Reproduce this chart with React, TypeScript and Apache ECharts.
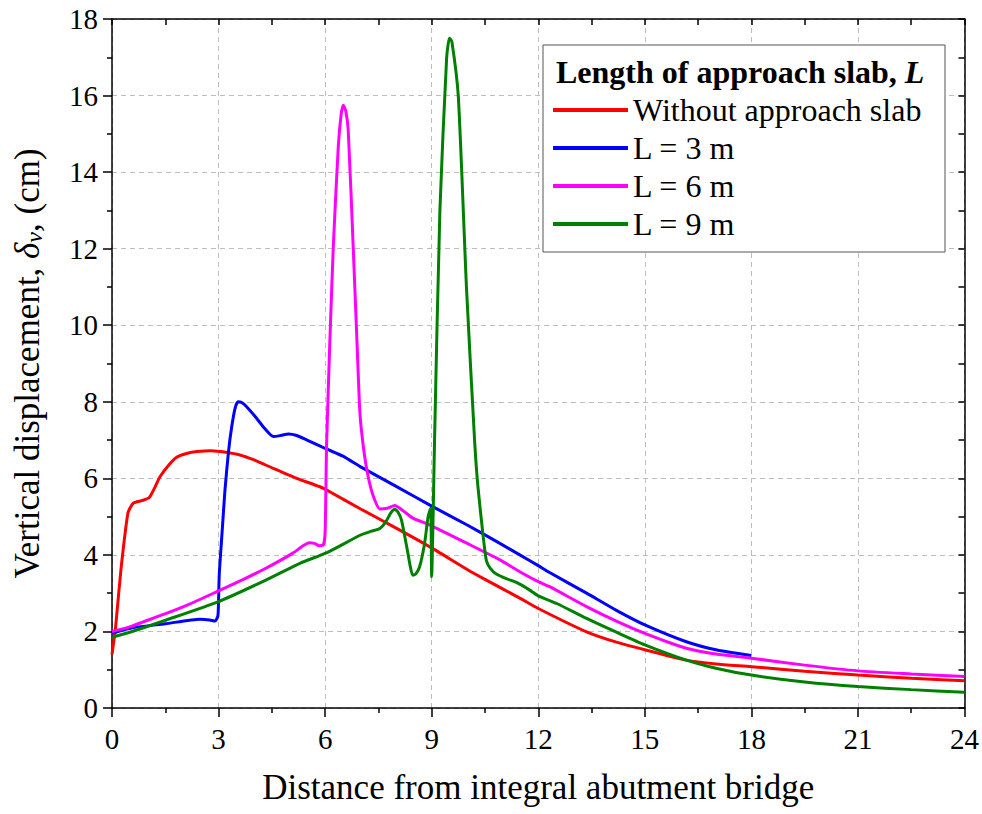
import React, { useEffect, useRef } from "react";
import * as echarts from "echarts";

const seriesNames = ["Without approach slab", "L = 3 m", "L = 6 m", "L = 9 m"];
const seriesColors = ["#FF0000", "#0000FF", "#FF00FF", "#008000"];

const xTicks = [0, 3, 6, 9, 12, 15, 18, 21, 24];
const yTicks = [0, 2, 4, 6, 8, 10, 12, 14, 16, 18];

const xRed = [0, 0.1, 0.25, 0.45, 0.6, 0.85, 1.05, 1.2, 1.35, 1.6, 1.82, 2.1, 2.4, 2.8, 3.2, 3.6, 4.0, 4.54, 5.2, 5.85, 6.13, 7.0, 8.0, 8.95, 10.0, 10.54, 11.48, 12.0, 13.36, 14.2, 15.0, 16.17, 17.0, 18.0, 19.5, 21.0, 22.5, 24.0];
const yRed = [1.4, 2.1, 3.6, 5.1, 5.35, 5.42, 5.5, 5.75, 6.04, 6.35, 6.55, 6.65, 6.7, 6.72, 6.68, 6.61, 6.48, 6.26, 6.0, 5.78, 5.65, 5.2, 4.7, 4.21, 3.62, 3.34, 2.87, 2.6, 1.99, 1.72, 1.52, 1.25, 1.15, 1.08, 0.96, 0.86, 0.78, 0.71];

const xBlue = [0, 0.6, 1.5, 2.48, 2.75, 2.9, 2.98, 3.0, 3.02, 3.1, 3.18, 3.28, 3.37, 3.47, 3.55, 3.65, 3.79, 4.07, 4.3, 4.54, 4.75, 4.97, 5.2, 5.49, 6.05, 6.5, 7.0, 8.0, 8.95, 10.0, 10.92, 11.48, 12.0, 12.32, 13.36, 14.2, 15.0, 16.17, 17.0, 18.0];
const yBlue = [1.95, 2.1, 2.2, 2.32, 2.3, 2.27, 2.4, 2.8, 3.5, 4.6, 5.69, 6.7, 7.35, 7.85, 8.0, 7.98, 7.87, 7.57, 7.3, 7.09, 7.12, 7.16, 7.12, 7.0, 6.76, 6.58, 6.3, 5.79, 5.3, 4.78, 4.3, 4.0, 3.72, 3.54, 3.0, 2.55, 2.17, 1.73, 1.52, 1.37];

const xMagenta = [0, 0.5, 0.88, 1.53, 2.2, 3.0, 3.7, 4.33, 5.08, 5.4, 5.55, 5.7, 5.83, 5.95, 6.0, 6.04, 6.13, 6.23, 6.37, 6.45, 6.51, 6.58, 6.65, 6.79, 6.9, 6.98, 7.08, 7.2, 7.35, 7.54, 7.75, 7.96, 8.2, 8.47, 8.95, 10.0, 10.92, 11.48, 12.0, 12.32, 13.36, 14.2, 15.0, 16.17, 17.0, 18.0, 19.5, 21.0, 22.5, 24.0];
const yMagenta = [2.0, 2.12, 2.25, 2.47, 2.72, 3.06, 3.36, 3.65, 4.04, 4.25, 4.32, 4.3, 4.24, 4.26, 4.6, 6.83, 9.5, 12.05, 14.66, 15.5, 15.75, 15.6, 15.1, 12.05, 9.5, 7.7, 6.8, 6.1, 5.55, 5.2, 5.22, 5.29, 5.15, 4.96, 4.78, 4.3, 3.87, 3.56, 3.3, 3.17, 2.65, 2.27, 1.95, 1.56, 1.41, 1.3, 1.12, 0.97, 0.89, 0.82];

const xGreen = [0, 0.5, 1.53, 3.0, 4.33, 5.29, 6.05, 7.0, 7.3, 7.54, 7.7, 7.85, 7.96, 8.05, 8.15, 8.3, 8.47, 8.55, 8.66, 8.8, 8.9, 8.97, 9.0, 9.04, 9.08, 9.23, 9.42, 9.5, 9.57, 9.75, 9.98, 10.21, 10.3, 10.45, 10.54, 10.65, 10.82, 11.1, 11.39, 11.76, 12.0, 12.52, 13.36, 14.2, 15.0, 16.17, 17.0, 18.0, 19.5, 21.0, 22.5, 24.0];
const yGreen = [1.85, 1.98, 2.3, 2.78, 3.34, 3.78, 4.06, 4.52, 4.62, 4.69, 4.85, 5.1, 5.19, 5.12, 4.91, 4.2, 3.47, 3.5, 3.69, 4.3, 5.0, 5.22, 3.43, 5.0, 6.96, 12.97, 16.97, 17.5, 17.4, 15.97, 10.97, 6.96, 5.8, 4.48, 3.85, 3.65, 3.5, 3.38, 3.28, 3.08, 2.93, 2.73, 2.34, 1.98, 1.65, 1.25, 1.04, 0.86, 0.68, 0.56, 0.48, 0.41];

const FONT = "Liberation Serif";

function zip(xs: number[], ys: number[]) {
  return xs.map((x, i) => [x, ys[i]]);
}

export default function App() {
  const ref = useRef<HTMLDivElement>(null);
  useEffect(() => {
    document.body.style.margin = "0";
    if (!ref.current) return;
    const chart = echarts.init(ref.current, undefined, { renderer: "svg" });
    const data = [zip(xRed, yRed), zip(xBlue, yBlue), zip(xMagenta, yMagenta), zip(xGreen, yGreen)];
    const axisLine = { show: true, onZero: false, lineStyle: { color: "#000", width: 1.5 } };
    chart.setOption({
      animation: false,
      backgroundColor: "#fff",
      textStyle: { fontFamily: FONT },
      grid: { left: 112, right: 17, top: 19, bottom: 106, containLabel: false },
      xAxis: [
        {
          type: "value",
          min: xTicks[0],
          max: xTicks[xTicks.length - 1],
          interval: 3,
          position: "bottom",
          axisLine,
          axisTick: { show: true, inside: false, length: 9, lineStyle: { color: "#000", width: 1.5 } },
          minorTick: { show: true, splitNumber: 2, length: 5, lineStyle: { color: "#000", width: 1.5 } },
          axisLabel: { fontSize: 29, fontFamily: FONT, color: "#000", margin: 16 },
          splitLine: { show: true, lineStyle: { color: "#bdbdbd", type: [5, 4], width: 1 } },
          name: "Distance from integral abutment bridge",
          nameLocation: "middle",
          nameGap: 62,
          nameTextStyle: { fontSize: 35, fontFamily: FONT, color: "#000" },
        },
        {
          type: "value",
          min: xTicks[0],
          max: xTicks[xTicks.length - 1],
          interval: 3,
          position: "top",
          axisLine,
          axisTick: { show: true, inside: true, length: 6, lineStyle: { color: "#000", width: 1.5 } },
          minorTick: { show: true, splitNumber: 2, length: 6, lineStyle: { color: "#000", width: 1.5 } },
          axisLabel: { show: false },
          splitLine: { show: false },
        },
      ],
      yAxis: [
        {
          type: "value",
          min: yTicks[0],
          max: yTicks[yTicks.length - 1],
          interval: 2,
          position: "left",
          axisLine,
          axisTick: { show: true, inside: false, length: 9, lineStyle: { color: "#000", width: 1.5 } },
          minorTick: { show: true, splitNumber: 2, length: 5, lineStyle: { color: "#000", width: 1.5 } },
          axisLabel: { fontSize: 29, fontFamily: FONT, color: "#000", margin: 14 },
          splitLine: { show: true, lineStyle: { color: "#bdbdbd", type: [5, 4], width: 1 } },
          name: "{n|Vertical displacement, }{d|δ}{s|v}{n|, (cm)}",
          nameLocation: "middle",
          nameGap: 66,
          nameTextStyle: {
            fontSize: 35,
            fontFamily: FONT,
            color: "#000",
            rich: {
              n: { fontSize: 35, fontFamily: FONT, color: "#000" },
              d: { fontSize: 35, fontFamily: FONT, fontStyle: "italic", color: "#000" },
              s: { fontSize: 24, fontFamily: FONT, fontStyle: "italic", color: "#000", verticalAlign: "bottom", padding: [14, 0, 0, 0] },
            },
          },
        },
        {
          type: "value",
          min: yTicks[0],
          max: yTicks[yTicks.length - 1],
          interval: 2,
          position: "right",
          axisLine,
          axisTick: { show: true, inside: true, length: 6, lineStyle: { color: "#000", width: 1.5 } },
          minorTick: { show: true, splitNumber: 2, length: 6, lineStyle: { color: "#000", width: 1.5 } },
          axisLabel: { show: false },
          splitLine: { show: false },
        },
      ],
      legend: {
        data: seriesNames,
        orient: "vertical",
        left: 553,
        top: 91,
        padding: 0,
        itemWidth: 75,
        itemHeight: 4,
        itemGap: 0,
        icon: "rect",
        z: 20,
        textStyle: { fontSize: 32, fontFamily: FONT, color: "#000", lineHeight: 38 },
      },
      graphic: [
        {
          type: "rect",
          z: 15,
          shape: { x: 543, y: 45, width: 402, height: 207 },
          style: { fill: "#fff", stroke: "#555", lineWidth: 1 },
        },
        {
          type: "text",
          z: 20,
          x: 556,
          y: 72,
          style: {
            text: "{b|Length of approach slab, }{i|L}",
            verticalAlign: "middle",
            rich: {
              b: { fontSize: 32, fontFamily: FONT, fontWeight: "bold", fill: "#000" },
              i: { fontSize: 32, fontFamily: FONT, fontWeight: "bold", fontStyle: "italic", fill: "#000" },
            },
          },
        },
      ],
      series: seriesNames.map((name, i) => ({
        name,
        type: "line",
        data: data[i],
        xAxisIndex: 0,
        yAxisIndex: 0,
        symbol: "none",
        smooth: 0.2,
        color: seriesColors[i],
        lineStyle: { color: seriesColors[i], width: 3 },
        z: 2 + i,
      })),
    });
    return () => chart.dispose();
  }, []);
  return <div ref={ref} style={{ width: 982, height: 814 }} />;
}
